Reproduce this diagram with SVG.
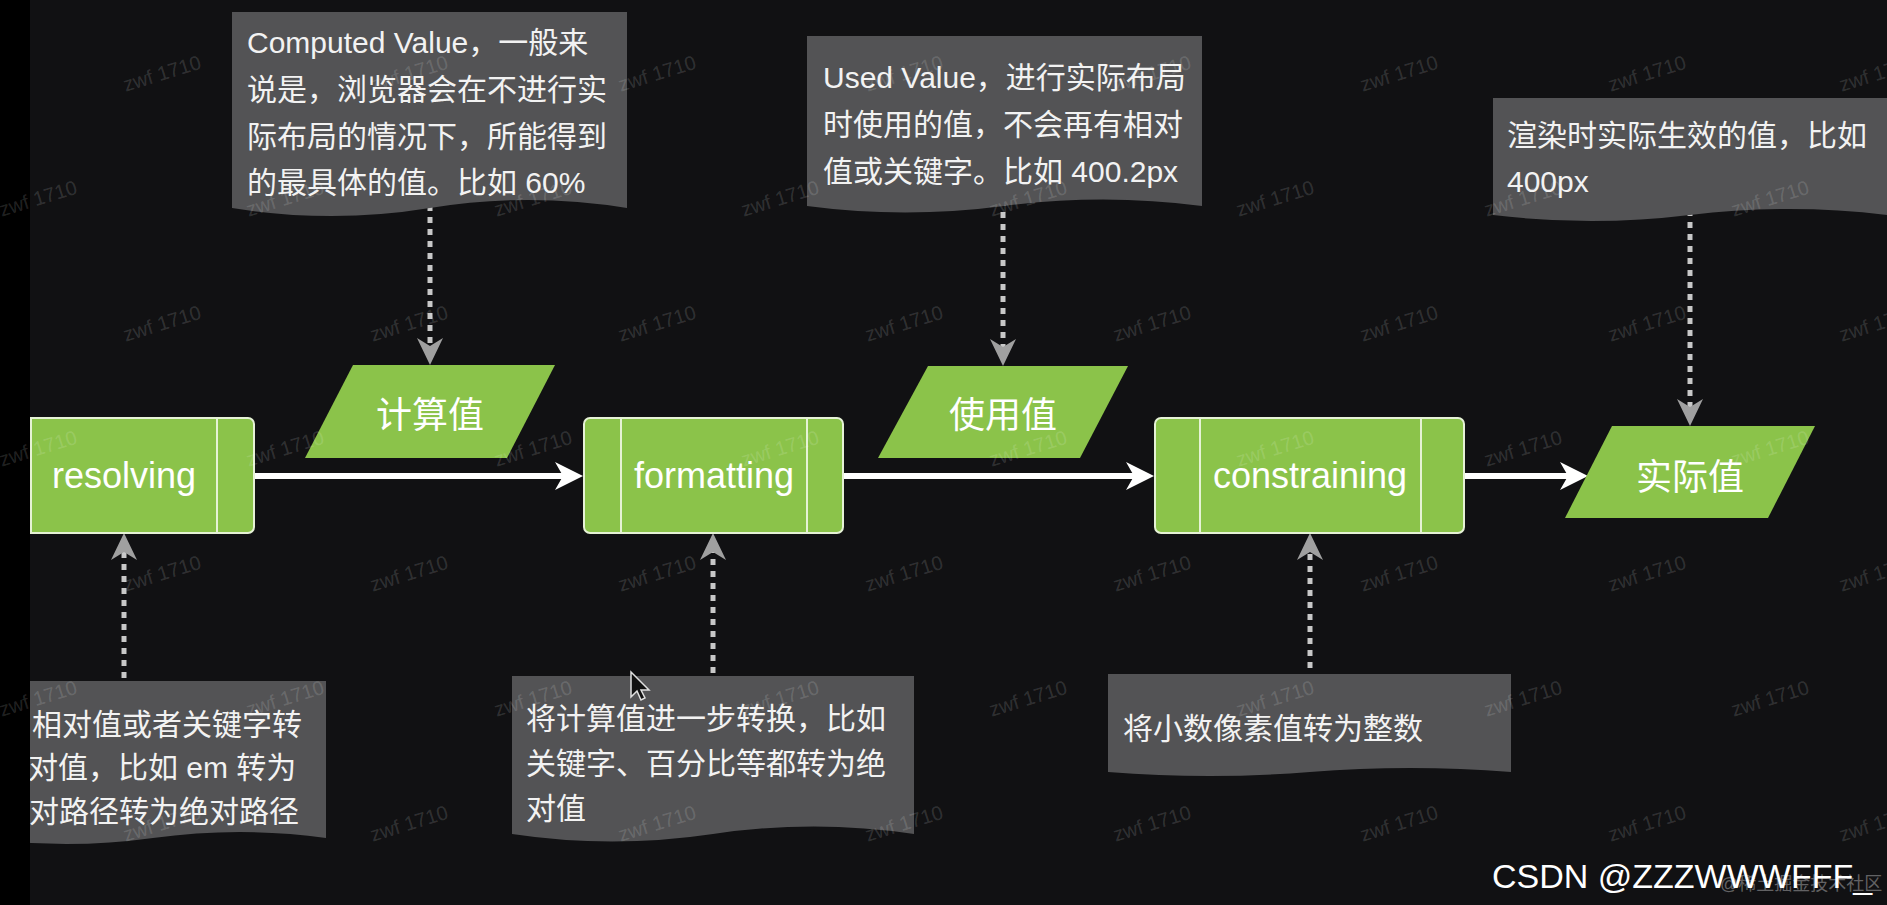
<svg xmlns="http://www.w3.org/2000/svg" width="1887" height="905" viewBox="0 0 1887 905">
<style>
  .bg{fill:#111113}
  .note{fill:#535355}
  .nt{font-family:"Liberation Sans","Noto Sans CJK SC",sans-serif;font-size:30px;fill:#f2f2f2}
  .proc{fill:#8bc34a;stroke:#e6f2d6;stroke-width:2}
  .pline{stroke:#e6f2d6;stroke-width:2}
  .pt{font-family:"Liberation Sans","Noto Sans CJK SC",sans-serif;font-size:36px;fill:#ffffff;text-anchor:middle}
  .para{fill:#8bc34a}
  .flow{stroke:#ffffff;stroke-width:6;fill:none}
  .dot{stroke:#c8c8c8;stroke-width:5;stroke-dasharray:6 6;fill:none}
  .wm{font-family:"Liberation Sans",sans-serif;font-size:20px;fill:#ffffff;fill-opacity:0.15;text-anchor:middle}
  .csdn{font-family:"Liberation Sans","Noto Sans CJK SC",sans-serif;font-size:34px;fill:#ffffff}
</style>
<defs>
  <marker id="wh" markerUnits="userSpaceOnUse" viewBox="-29 -15 30 30" refX="-20" refY="0" markerWidth="30" markerHeight="30" orient="auto">
    <path d="M0,0 L-28,-14 L-20,0 L-28,14 Z" fill="#ffffff"/>
  </marker>
  <marker id="gh" markerUnits="userSpaceOnUse" viewBox="-29 -15 30 30" refX="-19" refY="0" markerWidth="30" markerHeight="30" orient="auto">
    <path d="M0,0 L-27,-13 L-19,0 L-27,13 Z" fill="#a0a0a0"/>
  </marker>
</defs>
<rect class="bg" x="0" y="0" width="1887" height="905"/>

<g id="connectors">
  <line class="flow" x1="254" y1="476" x2="563" y2="476" marker-end="url(#wh)"/>
  <line class="flow" x1="843" y1="476" x2="1134" y2="476" marker-end="url(#wh)"/>
  <line class="flow" x1="1464" y1="476" x2="1568" y2="476" marker-end="url(#wh)"/>
  <line class="dot" x1="430" y1="205" x2="430" y2="346" marker-end="url(#gh)"/>
  <line class="dot" x1="1003" y1="200" x2="1003" y2="347" marker-end="url(#gh)"/>
  <line class="dot" x1="1690" y1="210" x2="1690" y2="407" marker-end="url(#gh)"/>
  <line class="dot" x1="124" y1="690" x2="124" y2="552" marker-end="url(#gh)"/>
  <line class="dot" x1="713" y1="685" x2="713" y2="552" marker-end="url(#gh)"/>
  <line class="dot" x1="1310" y1="680" x2="1310" y2="552" marker-end="url(#gh)"/>
</g>

<g id="note-computed">
  <path class="note" d="M232,12 H627 V208 Q528,192 430,208 T232,208 Z"/>
  <text class="nt" x="247" y="53">Computed Value，一般来</text>
  <text class="nt" x="247" y="100">说是，浏览器会在不进行实</text>
  <text class="nt" x="247" y="147">际布局的情况下，所能得到</text>
  <text class="nt" x="247" y="193">的最具体的值。比如 60%</text>
</g>
<g id="note-used">
  <path class="note" d="M807,36 H1202 V206 Q1103,193 1004,206 T807,206 Z"/>
  <text class="nt" x="823" y="88">Used Value，进行实际布局</text>
  <text class="nt" x="823" y="135">时使用的值，不会再有相对</text>
  <text class="nt" x="823" y="182">值或关键字。比如 400.2px</text>
</g>
<g id="note-actual">
  <path class="note" d="M1493,98 H1888 V215 Q1789,203 1690,215 T1493,215 Z"/>
  <text class="nt" x="1507" y="146">渲染时实际生效的值，比如</text>
  <text class="nt" x="1507" y="192">400px</text>
</g>

<g id="resolving">
  <rect class="proc" x="-6" y="418" width="260" height="115" rx="6"/>
  <line class="pline" x1="31" y1="418" x2="31" y2="533"/>
  <line class="pline" x1="217" y1="418" x2="217" y2="533"/>
  <text class="pt" x="124" y="488">resolving</text>
</g>
<g id="calc-value">
  <polygon class="para" points="353,365 555,365 507,458 305,458"/>
  <text class="pt" x="430" y="428">计算值</text>
</g>
<g id="formatting">
  <rect class="proc" x="584" y="418" width="259" height="115" rx="6"/>
  <line class="pline" x1="621" y1="418" x2="621" y2="533"/>
  <line class="pline" x1="807" y1="418" x2="807" y2="533"/>
  <text class="pt" x="714" y="488">formatting</text>
</g>
<g id="used-value">
  <polygon class="para" points="928,366 1128,366 1080,458 878,458"/>
  <text class="pt" x="1003" y="428">使用值</text>
</g>
<g id="constraining">
  <rect class="proc" x="1155" y="418" width="309" height="115" rx="6"/>
  <line class="pline" x1="1200" y1="418" x2="1200" y2="533"/>
  <line class="pline" x1="1421" y1="418" x2="1421" y2="533"/>
  <text class="pt" x="1310" y="488">constraining</text>
</g>
<g id="actual-value">
  <polygon class="para" points="1612,426 1815,426 1768,518 1565,518"/>
  <text class="pt" x="1690" y="490">实际值</text>
</g>

<g id="note-resolving">
  <path class="note" d="M-20,681 H326 V838 Q240,826 153,838 T-20,838 Z"/>
  <text class="nt" x="32" y="735">相对值或者关键字转</text>
  <text class="nt" x="28" y="778">对值，比如 em 转为</text>
  <text class="nt" x="29" y="822">对路径转为绝对路径</text>
</g>
<g id="note-formatting">
  <path class="note" d="M512,676 H914 V834 Q814,819 713,834 T512,834 Z"/>
  <text class="nt" x="526" y="729">将计算值进一步转换，比如</text>
  <text class="nt" x="526" y="774">关键字、百分比等都转为绝</text>
  <text class="nt" x="526" y="819">对值</text>
</g>
<g id="note-constraining">
  <path class="note" d="M1108,674 H1511 V772 Q1410,764 1310,772 T1108,772 Z"/>
  <text class="nt" x="1123" y="739">将小数像素值转为整数</text>
</g>

<rect x="0" y="0" width="30" height="905" fill="#000000"/>

<path d="M631,672 L631,697 L637,691 L641,700 L645,698 L641,690 L649,690 Z" fill="#111111" stroke="#e0e0e0" stroke-width="1.5"/>

<g id="watermarks">
  <text class="wm" transform="translate(164,80) rotate(-17)">zwf 1710</text>
  <text class="wm" transform="translate(411,80) rotate(-17)">zwf 1710</text>
  <text class="wm" transform="translate(659,80) rotate(-17)">zwf 1710</text>
  <text class="wm" transform="translate(906,80) rotate(-17)">zwf 1710</text>
  <text class="wm" transform="translate(1154,80) rotate(-17)">zwf 1710</text>
  <text class="wm" transform="translate(1401,80) rotate(-17)">zwf 1710</text>
  <text class="wm" transform="translate(1649,80) rotate(-17)">zwf 1710</text>
  <text class="wm" transform="translate(1880,80) rotate(-17)">zwf 1710</text>

  <text class="wm" transform="translate(40,205) rotate(-17)">zwf 1710</text>
  <text class="wm" transform="translate(287,205) rotate(-17)">zwf 1710</text>
  <text class="wm" transform="translate(535,205) rotate(-17)">zwf 1710</text>
  <text class="wm" transform="translate(782,205) rotate(-17)">zwf 1710</text>
  <text class="wm" transform="translate(1030,205) rotate(-17)">zwf 1710</text>
  <text class="wm" transform="translate(1277,205) rotate(-17)">zwf 1710</text>
  <text class="wm" transform="translate(1525,205) rotate(-17)">zwf 1710</text>
  <text class="wm" transform="translate(1772,205) rotate(-17)">zwf 1710</text>

  <text class="wm" transform="translate(164,330) rotate(-17)">zwf 1710</text>
  <text class="wm" transform="translate(411,330) rotate(-17)">zwf 1710</text>
  <text class="wm" transform="translate(659,330) rotate(-17)">zwf 1710</text>
  <text class="wm" transform="translate(906,330) rotate(-17)">zwf 1710</text>
  <text class="wm" transform="translate(1154,330) rotate(-17)">zwf 1710</text>
  <text class="wm" transform="translate(1401,330) rotate(-17)">zwf 1710</text>
  <text class="wm" transform="translate(1649,330) rotate(-17)">zwf 1710</text>
  <text class="wm" transform="translate(1880,330) rotate(-17)">zwf 1710</text>

  <text class="wm" transform="translate(40,455) rotate(-17)">zwf 1710</text>
  <text class="wm" transform="translate(287,455) rotate(-17)">zwf 1710</text>
  <text class="wm" transform="translate(535,455) rotate(-17)">zwf 1710</text>
  <text class="wm" transform="translate(782,455) rotate(-17)">zwf 1710</text>
  <text class="wm" transform="translate(1030,455) rotate(-17)">zwf 1710</text>
  <text class="wm" transform="translate(1277,455) rotate(-17)">zwf 1710</text>
  <text class="wm" transform="translate(1525,455) rotate(-17)">zwf 1710</text>
  <text class="wm" transform="translate(1772,455) rotate(-17)">zwf 1710</text>

  <text class="wm" transform="translate(164,580) rotate(-17)">zwf 1710</text>
  <text class="wm" transform="translate(411,580) rotate(-17)">zwf 1710</text>
  <text class="wm" transform="translate(659,580) rotate(-17)">zwf 1710</text>
  <text class="wm" transform="translate(906,580) rotate(-17)">zwf 1710</text>
  <text class="wm" transform="translate(1154,580) rotate(-17)">zwf 1710</text>
  <text class="wm" transform="translate(1401,580) rotate(-17)">zwf 1710</text>
  <text class="wm" transform="translate(1649,580) rotate(-17)">zwf 1710</text>
  <text class="wm" transform="translate(1880,580) rotate(-17)">zwf 1710</text>

  <text class="wm" transform="translate(40,705) rotate(-17)">zwf 1710</text>
  <text class="wm" transform="translate(287,705) rotate(-17)">zwf 1710</text>
  <text class="wm" transform="translate(535,705) rotate(-17)">zwf 1710</text>
  <text class="wm" transform="translate(782,705) rotate(-17)">zwf 1710</text>
  <text class="wm" transform="translate(1030,705) rotate(-17)">zwf 1710</text>
  <text class="wm" transform="translate(1277,705) rotate(-17)">zwf 1710</text>
  <text class="wm" transform="translate(1525,705) rotate(-17)">zwf 1710</text>
  <text class="wm" transform="translate(1772,705) rotate(-17)">zwf 1710</text>

  <text class="wm" transform="translate(164,830) rotate(-17)">zwf 1710</text>
  <text class="wm" transform="translate(411,830) rotate(-17)">zwf 1710</text>
  <text class="wm" transform="translate(659,830) rotate(-17)">zwf 1710</text>
  <text class="wm" transform="translate(906,830) rotate(-17)">zwf 1710</text>
  <text class="wm" transform="translate(1154,830) rotate(-17)">zwf 1710</text>
  <text class="wm" transform="translate(1401,830) rotate(-17)">zwf 1710</text>
  <text class="wm" transform="translate(1649,830) rotate(-17)">zwf 1710</text>
  <text class="wm" transform="translate(1880,830) rotate(-17)">zwf 1710</text>
</g>

<text class="csdn" x="1492" y="888">CSDN @ZZZWWWFFF_</text>
<text x="1720" y="890" font-family="'Liberation Sans','Noto Sans CJK SC',sans-serif" font-size="18" fill="#ffffff" fill-opacity="0.35">@稀土掘金技术社区</text>
</svg>
